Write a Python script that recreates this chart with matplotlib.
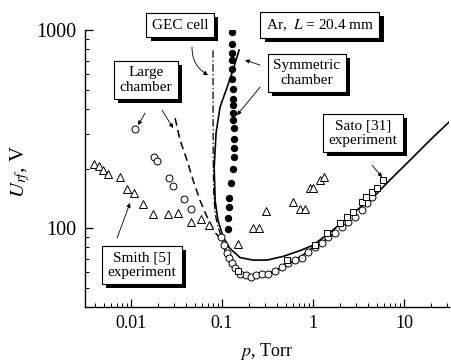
import numpy as np
import matplotlib
matplotlib.use("Agg")
import matplotlib.pyplot as plt
from matplotlib import patheffects
from matplotlib.ticker import LogLocator, NullFormatter, FixedLocator, FixedFormatter

plt.rcParams['font.family'] = ['Liberation Serif', 'DejaVu Serif']
plt.rcParams['mathtext.fontset'] = 'stix'

# Smith [5] experiment (triangles)
smith_p = [0.0039, 0.00445, 0.0049, 0.0056, 0.0076, 0.0090, 0.0108, 0.0136, 0.0175,
           0.0255, 0.0328, 0.0456, 0.0588, 0.072, 0.150, 0.219, 0.255, 0.305,
           0.603, 0.72, 0.817, 0.927, 1.0, 1.19, 1.32]
smith_u = [210, 206, 196, 187, 181, 157, 150, 132, 118,
           118, 119, 107, 111, 104, 83, 100, 100, 122,
           135, 125, 125, 159, 159, 175, 181]

# large chamber experiment (open circles)
large_p = [0.0111, 0.0179, 0.0193, 0.0262, 0.029, 0.0382, 0.0456, 0.098,
           0.105, 0.114, 0.119, 0.129, 0.139, 0.158, 0.184, 0.209, 0.237, 0.275,
           0.320, 0.382, 0.456, 0.531, 0.634, 0.757, 0.881, 1.05, 1.26, 1.46,
           1.75, 2.08, 2.43, 2.90, 3.45, 3.92, 4.45]
large_u = [316, 229, 218, 179, 163, 140, 125, 90,
           82, 75, 71, 67, 63, 59, 58, 57, 58, 59,
           59, 61, 64, 67, 69, 71, 76, 80, 84, 90,
           94, 101, 107, 114, 123, 134, 143]

# symmetric chamber experiment (filled circles)
sym_p = [0.129, 0.129, 0.129, 0.129, 0.129, 0.129, 0.132, 0.132, 0.132, 0.132,
         0.132, 0.135, 0.135, 0.135, 0.135, 0.132, 0.126, 0.119, 0.119, 0.116, 0.116]
sym_u = [977, 849, 765, 705, 635, 566, 504, 449, 418, 381,
         351, 320, 281, 253, 228, 199, 169, 142, 128, 112, 99]

# Sato [31] experiment (squares)
sato_p = [0.150, 0.518, 1.05, 1.43, 1.98, 2.37, 2.75, 3.45, 3.82, 4.45, 5.05, 5.87]
sato_u = [61, 69, 82, 95, 106, 114, 120, 135, 143, 152, 159, 175]

# model curves
model_sym_p = [0.154, 0.132, 0.114, 0.095, 0.086, 0.082, 0.084, 0.090, 0.103, 0.122,
               0.158, 0.219, 0.313, 0.468, 0.72, 1.0, 1.66, 2.75, 4.57, 7.0,
               11.6, 19.3, 31.0]
model_sym_u = [792, 628, 515, 408, 302, 203, 138, 110, 90, 79,
               71, 69, 69, 72, 77, 82, 98, 119, 143, 175,
               220, 278, 342]

model_large_p = [0.0305, 0.0346, 0.0412, 0.048, 0.0573, 0.0684, 0.0838, 0.1]
model_large_u = [359, 278, 220, 175, 138, 114, 95, 87]

model_large_lo_p = [0.1, 0.106, 0.114, 0.125, 0.14, 0.16, 0.2, 0.25, 0.32, 0.45,
                    0.6, 0.8, 1.0, 1.3, 1.7]
model_large_lo_u = [87, 79, 72, 66, 62, 59, 57, 57.5, 59, 63,
                    68, 74, 80, 86, 94]

model_gec_p = [0.0796, 0.0797, 0.0800, 0.0810, 0.0840, 0.090, 0.097]
model_gec_u = [790, 400, 220, 150, 118, 102, 92]

fig = plt.figure(figsize=(4.51, 3.62), dpi=100)
ax = fig.add_axes([85/451, 55/362, 364/451, 277/362])

ax.plot(model_sym_p, model_sym_u, color='black', lw=1.2)
ax.plot(model_large_p, model_large_u, color='black', lw=1.1, ls=(0, (5, 3)))
ax.plot(model_large_lo_p, model_large_lo_u, color='black', lw=1.1)
ax.plot(model_gec_p, model_gec_u, color='black', lw=0.9, ls=(0, (6, 2, 1, 2)))

ax.plot(smith_p, smith_u, ls='none', marker='^', ms=6, mfc='white', mec='black', mew=0.7)
ax.plot(large_p, large_u, ls='none', marker='o', ms=5, mfc='white', mec='black', mew=0.7)
ax.plot(sato_p, sato_u, ls='none', marker='s', ms=5, mfc='white', mec='black', mew=0.7)
ax.plot(sym_p, sym_u, ls='none', marker='o', ms=4.3, mfc='black', mec='black')

ax.set_xscale('log')
ax.set_yscale('log')
ax.set_xlim(0.00312, 31.2)
ax.set_ylim(40, 1000)

for s in ['top', 'right']:
    ax.spines[s].set_visible(False)
for s in ['left', 'bottom']:
    ax.spines[s].set_linewidth(1.0)

ax.xaxis.set_major_locator(FixedLocator([0.01, 0.1, 1, 10]))
ax.xaxis.set_major_formatter(FixedFormatter(['0.01', '0.1', '1', '10']))
ax.xaxis.set_minor_locator(LogLocator(base=10, subs=np.arange(2, 10)))
ax.xaxis.set_minor_formatter(NullFormatter())
ax.yaxis.set_major_locator(FixedLocator([100, 1000]))
ax.yaxis.set_major_formatter(FixedFormatter(['100', '1000']))
ax.yaxis.set_minor_locator(LogLocator(base=10, subs=np.arange(2, 10)))
ax.yaxis.set_minor_formatter(NullFormatter())
ax.tick_params(which='both', direction='in')
ax.tick_params(axis='x', labelsize=13)
ax.tick_params(axis='y', labelsize=14.5)
ax.tick_params(which='major', length=6, width=0.9, pad=6)
ax.tick_params(which='minor', length=3, width=0.7)

ax.set_xlabel(r'$p$, Torr', fontsize=13, labelpad=6)
ax.set_ylabel(r'$U_{rf}$, V', fontsize=15)
ax.yaxis.set_label_coords(-0.145, 0.49)

shadow = [patheffects.withSimplePatchShadow(offset=(3, -3), shadow_rgbFace='black', alpha=1.0)]

def box(x, y, txt):
    t = ax.text(x, y, txt, ha='center', va='center', fontsize=11, linespacing=1.15,
                bbox=dict(boxstyle='square,pad=0.35', fc='white', ec='black', lw=0.8),
                zorder=10)
    t.get_bbox_patch().set_path_effects(shadow)
    return t

box(0.0346, 1059, 'GEC cell')
box(1.19, 1059, r'Ar,  $L$ = 20.4 mm')
box(0.0146, 558, 'Large\nchamber')
box(0.859, 607, 'Symmetric\nchamber')
box(3.54, 302, 'Sato [31]\nexperiment')
box(0.0132, 65, 'Smith [5]\nexperiment')

arrows = [
    ((0.0468, 821), (0.0702, 593), 'arc3,rad=0.3'),
    ((0.01426, 381), (0.01194, 331), 'arc3'),
    ((0.0219, 394), (0.0290, 320), 'arc3'),
    ((0.262, 665), (0.179, 705), 'arc3'),
    ((0.262, 515), (0.146, 372), 'arc3'),
    ((4.45, 208), (5.73, 181), 'arc3'),
    ((0.00702, 89), (0.00975, 134), 'arc3'),
]
for start, end, cs in arrows:
    ax.annotate('', xy=end, xytext=start,
                arrowprops=dict(arrowstyle='-|>', color='black', lw=0.6,
                                mutation_scale=6, connectionstyle=cs,
                                shrinkA=0, shrinkB=0))

fig.savefig('out.png', dpi=100)
